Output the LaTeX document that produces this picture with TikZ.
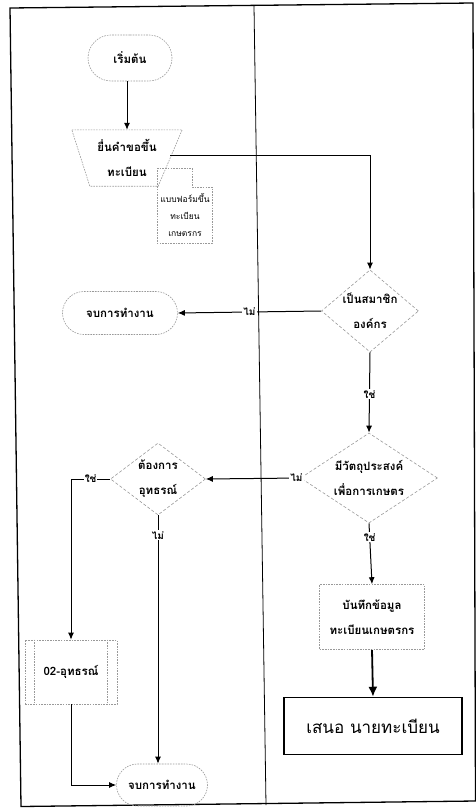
\documentclass[tikz,border=0pt]{standalone}
\usepackage{fontspec}
\newfontfamily\thai[Script=Thai]{Loma}
\usetikzlibrary{arrows.meta,shapes.geometric,shapes.misc,calc}
\begin{document}
\begin{tikzpicture}[x=1pt,y=-1pt,
  brd/.style={draw=gray!80, dash pattern=on 1.6pt off 1.1pt, line width=0.6pt},
  box/.style={brd, font=\thai\bfseries\fontsize{11.5}{25}\selectfont, align=center, inner sep=0pt},
  term/.style={box, rounded rectangle},
  dec/.style={box, diamond, dash pattern=on 3pt off 2pt},
  arr/.style={-{Latex[length=7pt,width=6pt]}, line width=1pt},
  lab/.style={font=\thai\bfseries\fontsize{10}{10}\selectfont, fill=white, inner sep=1pt}
]
\useasboundingbox (0,0) rectangle (476,808);
% frame
\draw[line width=1.3pt] (10,8) -- (473,3) -- (475.5,801) -- (21,806.5) -- cycle;
\draw[line width=0.8pt] (254,6) -- (266,805);

% nodes
\node[term, minimum width=84, minimum height=46] (start) at (130,58) {เริ่มต้น};
\node[font=\thai\bfseries\fontsize{11.5}{25}\selectfont, align=center, inner sep=0pt,
      minimum width=110, minimum height=56] (inp) at (127,158) {ยื่นคำขอขึ้น\\ทะเบียน};
\draw[brd]
  (inp.north west) -- (inp.north east) -- ([xshift=-24]inp.south east)
  -- ([xshift=18]inp.south west) -- cycle;
\node[font=\thai\fontsize{8.5}{17}\selectfont, align=center, inner sep=0pt] (doc) at (185,215) {แบบฟอร์มขึ้น\\ทะเบียน\\เกษตรกร};
\draw[brd]
  (157,168) -- (192,168) -- (192,187) -- (212,187) -- (212,243) -- (157,243) -- cycle;

\node[dec, minimum width=87, minimum height=74, aspect=1.18] (d1) at (370,311) {เป็นสมาชิก\\องค์กร};
\node[term, minimum width=115, minimum height=43] (end1) at (120,313) {จบการทำงาน};
\node[dec, minimum width=137, minimum height=90, aspect=1.5] (d2) at (369,478) {มีวัตถุประสงค์\\เพื่อการเกษตร};
\node[dec, minimum width=95, minimum height=72, aspect=1.3] (d3) at (158,479) {ต้องการ\\อุทธรณ์};
\node[box, minimum width=92, minimum height=64] (sub) at (71,672) {02-อุทธรณ์};
\draw[brd]
  ([xshift=10]sub.north west) -- ([xshift=10]sub.south west)
  ([xshift=-10]sub.north east) -- ([xshift=-10]sub.south east);
\node[term, minimum width=91, minimum height=42] (end2) at (162,785) {จบการทำงาน};
\node[box, minimum width=105, minimum height=65] (rec) at (372,617) {บันทึกข้อมูล\\ทะเบียนเกษตรกร};
\node[draw=black, line width=1.5pt, minimum width=178, minimum height=57, inner sep=0pt,
      font=\thai\fontsize{17}{19}\selectfont] (fin) at (373,726) {เสนอ นายทะเบียน};

% connectors
\draw[arr] (start.south -| inp.north) -- (inp.north);
\draw[arr] ($(inp.east)+(-12,-3)$) -| (d1.north);
\draw[arr] (d1.west) -- node[lab, pos=0.5]{ไม่} (end1.east);
\draw[arr] (d1.south) -- node[lab, pos=0.52]{ใช่} (d2.north);
\draw[arr] (d2.west) -- node[lab, pos=0.04]{ไม่} (d3.east);
\draw[arr] (d3.west) -| node[lab, pos=0.25]{ใช่} (sub.north);
\draw[arr] (d3.south) -- node[lab, pos=0.08]{ไม่} (d3.south |- end2.north);
\draw[arr] (sub.south) |- (end2.west);
\draw[arr] (d2.south) -- node[lab, pos=0.23]{ใช่} (rec.north);
\draw[-{Latex[length=10pt,width=9pt]}, line width=1.8pt] (rec.south) -- (fin.north);
\end{tikzpicture}
\end{document}
